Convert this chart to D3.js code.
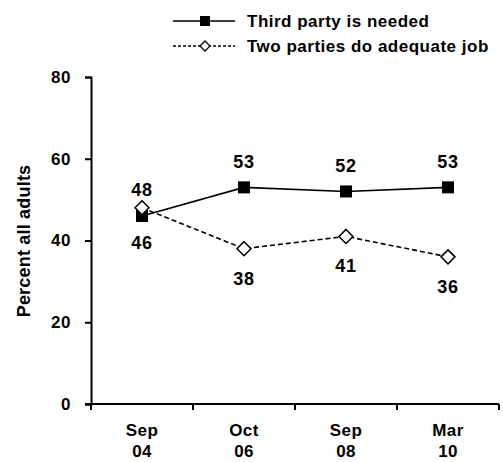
<!DOCTYPE html>
<html>
<head>
<meta charset="utf-8">
<script src="https://cdn.jsdelivr.net/npm/d3@7/dist/d3.min.js"></script>
<style>
  html, body { margin: 0; padding: 0; background: #fff; }
  svg { display: block; }
  text { font-family: "Liberation Sans", Arial, sans-serif; font-weight: bold; fill: #000; }
</style>
</head>
<body>
<script>
// Survey waves (two-line axis labels)
const periods = ["Sep 04", "Oct 06", "Sep 08", "Mar 10"];
const periodMonth = ["Sep", "Oct", "Sep", "Mar"];
const periodYear = ["04", "06", "08", "10"];

// Percent of all adults
const thirdPartyNeeded = [46, 53, 52, 53];
const twoPartiesAdequate = [48, 38, 41, 36];

const seriesNames = ["Third party is needed", "Two parties do adequate job"];
const yTicks = [0, 20, 40, 60, 80];

const W = 503, H = 462;
const svg = d3.select("body").append("svg").attr("width", W).attr("height", H);

const x = d3.scaleBand().domain(periods).range([91, 499]);
const y = d3.scaleLinear().domain([0, 80]).range([404, 77]);
const cx = p => x(p) + x.bandwidth() / 2;

// Y axis
const yAxis = svg.append("g").attr("transform", "translate(91,0)")
  .call(d3.axisLeft(y).tickValues(yTicks).tickSize(6).tickPadding(14));
yAxis.select(".domain").attr("stroke", "#000").attr("stroke-width", 2);
yAxis.selectAll(".tick line").attr("stroke", "#000").attr("stroke-width", 2);
yAxis.selectAll(".tick text")
  .style("font-size", "17px").style("font-family", "Liberation Sans, Arial, sans-serif")
  .style("font-weight", "bold").attr("letter-spacing", "0.6px");

// X axis: ticks mark band boundaries
const xAxisG = svg.append("g");
xAxisG.append("line").attr("x1", 85).attr("x2", 499).attr("y1", y(0)).attr("y2", y(0))
  .attr("stroke", "#000").attr("stroke-width", 2);
const bounds = periods.map(p => x(p)).concat([x.range()[1]]);
xAxisG.selectAll("line.tk").data(bounds).join("line").attr("class", "tk")
  .attr("x1", d => d).attr("x2", d => d).attr("y1", y(0)).attr("y2", y(0) + 6)
  .attr("stroke", "#000").attr("stroke-width", 2);
const xl = xAxisG.selectAll("text.xl").data(periods).join("text").attr("class", "xl")
  .attr("text-anchor", "middle").style("font-size", "17px").attr("letter-spacing", "0.4px");
xl.append("tspan").attr("x", d => cx(d)).attr("y", 436).text((d, i) => periodMonth[i]);
xl.append("tspan").attr("x", d => cx(d)).attr("y", 457).text((d, i) => periodYear[i]);

// Y axis title
svg.append("text").attr("transform", "translate(30,241) rotate(-90)")
  .attr("text-anchor", "middle").style("font-size", "18px").attr("letter-spacing", "0.2px")
  .text("Percent all adults");

const line = d3.line().x((d, i) => cx(periods[i])).y(d => y(d));

// Two parties (dashed, open diamonds)
svg.append("path").datum(twoPartiesAdequate).attr("d", line)
  .attr("fill", "none").attr("stroke", "#000").attr("stroke-width", 1.6).attr("stroke-dasharray", "5,3");
// Third party (solid, filled squares)
svg.append("path").datum(thirdPartyNeeded).attr("d", line)
  .attr("fill", "none").attr("stroke", "#000").attr("stroke-width", 1.6);

const sq = 12, dm = 7;
svg.selectAll("rect.m").data(thirdPartyNeeded).join("rect").attr("class", "m")
  .attr("x", (d, i) => cx(periods[i]) - sq / 2).attr("y", d => y(d) - sq / 2)
  .attr("width", sq).attr("height", sq).attr("fill", "#000");
const diamond = (px, py, r) => `M${px},${py - r}L${px + r},${py}L${px},${py + r}L${px - r},${py}Z`;
svg.selectAll("path.d").data(twoPartiesAdequate).join("path").attr("class", "d")
  .attr("d", (d, i) => diamond(cx(periods[i]), y(d), dm))
  .attr("fill", "#fff").attr("stroke", "#000").attr("stroke-width", 1.5);

// Value labels: third party above (below at first wave), two parties below (above at first wave)
const labelStyle = s => s.attr("text-anchor", "middle").style("font-size", "18px").attr("letter-spacing", "0.8px");
svg.selectAll("text.vt").data(thirdPartyNeeded).join("text").attr("class", "vt").call(labelStyle)
  .attr("x", (d, i) => cx(periods[i]))
  .attr("y", (d, i) => i === 0 ? y(d) + 33 : y(d) - 19)
  .text(d => d);
svg.selectAll("text.vb").data(twoPartiesAdequate).join("text").attr("class", "vb").call(labelStyle)
  .attr("x", (d, i) => cx(periods[i]))
  .attr("y", (d, i) => i === 0 ? y(d) - 12 : y(d) + 36)
  .text(d => d);

// Legend
const lg = svg.append("g");
lg.append("line").attr("x1", 173).attr("x2", 235).attr("y1", 21).attr("y2", 21)
  .attr("stroke", "#000").attr("stroke-width", 1.6);
lg.append("rect").attr("x", 200).attr("y", 16).attr("width", 10).attr("height", 10).attr("fill", "#000");
lg.append("line").attr("x1", 173).attr("x2", 235).attr("y1", 46).attr("y2", 46)
  .attr("stroke", "#000").attr("stroke-width", 1.3).attr("stroke-dasharray", "3,2");
lg.append("path").attr("d", diamond(205, 46, 5)).attr("fill", "#fff").attr("stroke", "#000").attr("stroke-width", 1.3);
lg.selectAll("text").data(seriesNames).join("text")
  .attr("x", 247).attr("y", (d, i) => 27 + i * 25).style("font-size", "17px")
  .attr("letter-spacing", "0.5px").text(d => d);
</script>
</body>
</html>
